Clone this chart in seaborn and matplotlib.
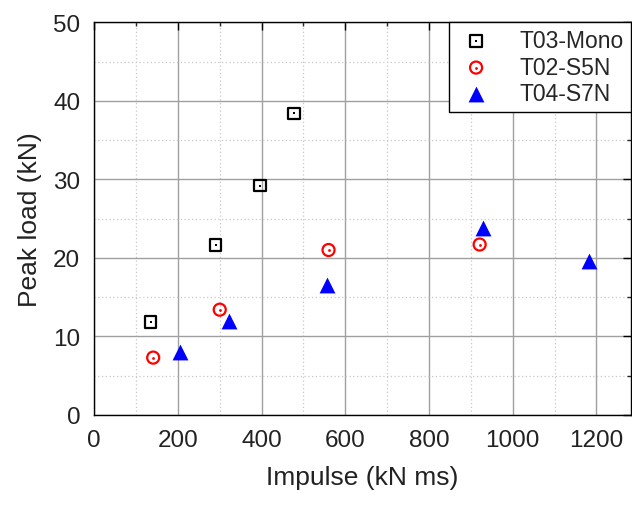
import matplotlib
matplotlib.use("Agg")
import matplotlib.pyplot as plt
from matplotlib.ticker import MultipleLocator
from matplotlib.legend_handler import HandlerTuple
import seaborn as sns

# Peak load vs impulse for the three test series
mono_impulse = [135, 290, 396, 477]
mono_load = [11.8, 21.6, 29.2, 38.4]

s5n_impulse = [141, 300, 560, 921]
s5n_load = [7.3, 13.4, 21.0, 21.7]

s7n_impulse = [204, 322, 557, 929, 1182]
s7n_load = [8.05, 11.9, 16.5, 23.8, 19.6]

labels = ["T03-Mono", "T02-S5N", "T04-S7N"]

sns.set_theme(style="white")
plt.rcParams["font.family"] = ["Liberation Sans", "DejaVu Sans"]

fig = plt.figure(figsize=(6.32, 5.06), dpi=100)
ax = fig.add_axes([0.149, 0.178, 0.849, 0.776])

# open square with a centre dot
sns.scatterplot(x=mono_impulse, y=mono_load, marker="s", s=70,
                facecolor="none", edgecolor="black", linewidth=1.6, ax=ax, zorder=3)
sns.scatterplot(x=mono_impulse, y=mono_load, marker="s", s=3,
                color="black", linewidth=0, ax=ax, zorder=4)
# open circle with a centre dot
sns.scatterplot(x=s5n_impulse, y=s5n_load, marker="o", s=75,
                facecolor="none", edgecolor="red", linewidth=1.6, ax=ax, zorder=3)
sns.scatterplot(x=s5n_impulse, y=s5n_load, marker="o", s=4,
                color="red", linewidth=0, ax=ax, zorder=4)
# filled triangle
sns.scatterplot(x=s7n_impulse, y=s7n_load, marker="^", s=130,
                color="blue", linewidth=0, ax=ax, zorder=3)

ax.set_xlim(0, 1282)
ax.set_ylim(0, 50)
ax.xaxis.set_major_locator(MultipleLocator(200))
ax.xaxis.set_minor_locator(MultipleLocator(100))
ax.yaxis.set_major_locator(MultipleLocator(10))
ax.yaxis.set_minor_locator(MultipleLocator(5))

ax.grid(True, which="major", color="#a0a0a0", linewidth=1.0, linestyle="-")
ax.grid(True, which="minor", color="#c8c8c8", linewidth=0.9, linestyle=(0, (1, 2)))
ax.set_axisbelow(True)

for side in ["left", "bottom", "right", "top"]:
    ax.spines[side].set_visible(True)
    ax.spines[side].set_color("black")
    ax.spines[side].set_linewidth(1.0)

ax.tick_params(axis="both", which="major", labelsize=17.5, labelcolor="#222222",
               colors="black", direction="out", length=6, width=1.0, pad=4)
ax.tick_params(axis="both", which="minor", direction="out", length=3, width=1.0)
ax.tick_params(which="both", right=True, top=True)
ax.tick_params(axis="y", which="both", labelright=False)
ax.tick_params(axis="x", which="both", labeltop=False)
for t in ax.yaxis.get_major_ticks() + ax.yaxis.get_minor_ticks():
    t.tick2line.set_marker(matplotlib.lines.TICKLEFT)
for t in ax.xaxis.get_major_ticks() + ax.xaxis.get_minor_ticks():
    t.tick2line.set_marker(matplotlib.lines.TICKDOWN)

ax.set_xlabel("Impulse (kN ms)", fontsize=19, color="#222222", labelpad=10)
ax.set_ylabel("Peak load (kN)", fontsize=19, color="#222222", labelpad=8)

# legend handles reuse the drawn collections
colls = ax.collections
handles = [(colls[0], colls[1]), (colls[2], colls[3]), colls[4]]
leg = ax.legend(handles, labels, handler_map={tuple: HandlerTuple(ndivide=1, pad=0)},
                loc="upper right", borderaxespad=0, fontsize=16.5, frameon=True,
                fancybox=False, edgecolor="black", framealpha=1,
                handletextpad=1.0, borderpad=0.3, labelspacing=0.15,
                handlelength=1.8)
leg.get_frame().set_linewidth(1.0)

fig.savefig("out.png", dpi=100)
